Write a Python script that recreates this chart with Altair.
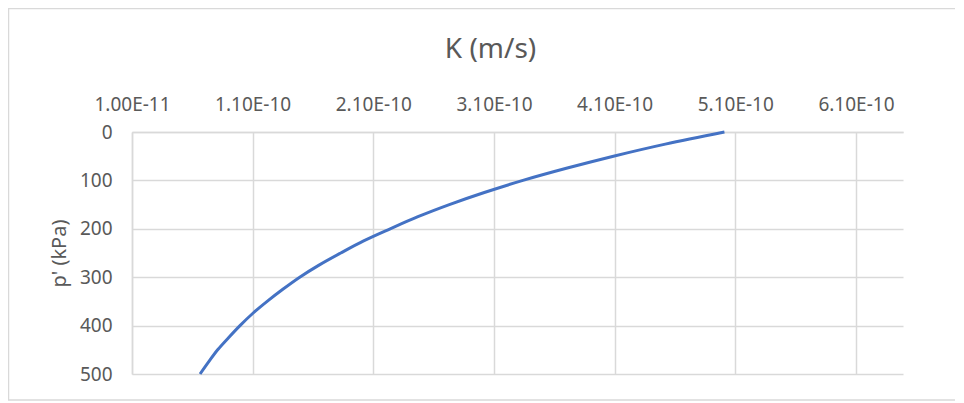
import altair as alt
import pandas as pd

# Effective stress p' (kPa) and hydraulic conductivity K (m/s)
p_kpa = [0, 25, 50, 75, 100, 125, 150, 175, 200, 225, 250, 275, 300, 325, 350, 375, 400, 425, 450, 475, 500]
k_ms = [5.01e-10, 4.52e-10, 4.09e-10, 3.70e-10, 3.34e-10, 3.02e-10, 2.73e-10, 2.47e-10, 2.24e-10,
        2.02e-10, 1.83e-10, 1.65e-10, 1.49e-10, 1.35e-10, 1.22e-10, 1.10e-10, 0.995e-10, 0.90e-10,
        0.81e-10, 0.735e-10, 0.664e-10]

x_ticks = [1.0e-11, 1.1e-10, 2.1e-10, 3.1e-10, 4.1e-10, 5.1e-10, 6.1e-10]
y_ticks = [0, 100, 200, 300, 400, 500]

df = pd.DataFrame({"p": p_kpa, "K": k_ms})
frame = pd.DataFrame({"a": [0]})

FONT = "Noto Sans"
GRAY = "#595959"
GRID = "#d9d9d9"

border = alt.Chart(frame).mark_rect(
    fillOpacity=0, stroke=GRID, strokeWidth=1.5
).encode(
    x=alt.value(-123.5), x2=alt.value(824),
    y=alt.value(-123.5), y2=alt.value(268),
)

line = alt.Chart(df).mark_line(
    color="#4472C4", strokeWidth=3, interpolate="catmull-rom"
).encode(
    x=alt.X("K:Q",
            scale=alt.Scale(domain=[1.0e-11, 6.49e-10], nice=False, zero=False),
            axis=alt.Axis(
                orient="top", values=x_ticks,
                labelExpr="upper(format(datum.value, '.2e'))",
                title="K (m/s)", titleFont=FONT, titleFontSize=28, titleFontWeight="normal",
                titleColor=GRAY, titleX=358, titleY=-75, titleAlign="center",
                titleBaseline="alphabetic",
                labelFont=FONT, labelFontSize=19, labelColor=GRAY, labelPadding=18,
                ticks=False, grid=True, gridColor=GRID, gridWidth=1.5,
                domain=True, domainColor=GRID, domainWidth=1.5,
                labelFlush=False, labelOverlap=False,
            )),
    y=alt.Y("p:Q",
            scale=alt.Scale(domain=[0, 500], reverse=True, nice=False),
            axis=alt.Axis(
                values=y_ticks, format="d",
                title="p' (kPa)", titleFont=FONT, titleFontSize=20, titleFontWeight="normal",
                titleColor=GRAY, titleX=-73, titleY=121, titleAngle=270,
                titleAlign="center", titleBaseline="middle",
                labelFont=FONT, labelFontSize=19, labelColor=GRAY, labelPadding=20,
                ticks=False, grid=True, gridColor=GRID, gridWidth=1.5,
                domain=True, domainColor=GRID, domainWidth=1.5,
                labelFlush=False, labelOverlap=False,
            )),
    order=alt.Order("p:Q"),
)

chart = alt.layer(border, line).properties(
    width=771, height=242,
    autosize=alt.AutoSizeParams(type="none"),
    padding={"left": 124, "top": 124, "right": 52, "bottom": 27},
    background="white",
).configure_view(strokeWidth=0)

chart.save("out.html", embed_options={"renderer": "svg", "actions": False})
